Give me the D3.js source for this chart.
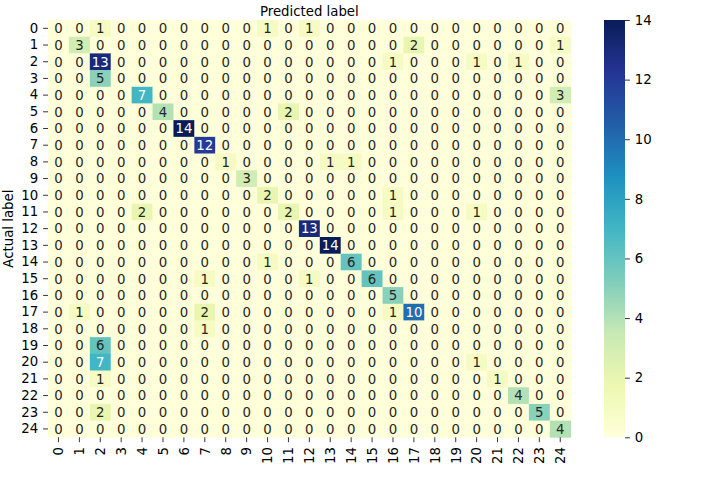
<!DOCTYPE html>
<html>
<head>
<meta charset="utf-8">
<script src="https://cdn.jsdelivr.net/npm/d3@7"></script>
<style>
  body { margin: 0; background: #fff; }
  svg { display: block; font-family: "DejaVu Sans", sans-serif; }
</style>
</head>
<body>
<svg id="chart" width="719" height="480"></svg>
<script>
// ---- data ----
const labels = d3.range(25).map(String);
const matrix = [
  [0,0,1,0,0,0,0,0,0,0,1,0,1,0,0,0,0,0,0,0,0,0,0,0,0],
  [0,3,0,0,0,0,0,0,0,0,0,0,0,0,0,0,0,2,0,0,0,0,0,0,1],
  [0,0,13,0,0,0,0,0,0,0,0,0,0,0,0,0,1,0,0,0,1,0,1,0,0],
  [0,0,5,0,0,0,0,0,0,0,0,0,0,0,0,0,0,0,0,0,0,0,0,0,0],
  [0,0,0,0,7,0,0,0,0,0,0,0,0,0,0,0,0,0,0,0,0,0,0,0,3],
  [0,0,0,0,0,4,0,0,0,0,0,2,0,0,0,0,0,0,0,0,0,0,0,0,0],
  [0,0,0,0,0,0,14,0,0,0,0,0,0,0,0,0,0,0,0,0,0,0,0,0,0],
  [0,0,0,0,0,0,0,12,0,0,0,0,0,0,0,0,0,0,0,0,0,0,0,0,0],
  [0,0,0,0,0,0,0,0,1,0,0,0,0,1,1,0,0,0,0,0,0,0,0,0,0],
  [0,0,0,0,0,0,0,0,0,3,0,0,0,0,0,0,0,0,0,0,0,0,0,0,0],
  [0,0,0,0,0,0,0,0,0,0,2,0,0,0,0,0,1,0,0,0,0,0,0,0,0],
  [0,0,0,0,2,0,0,0,0,0,0,2,0,0,0,0,1,0,0,0,1,0,0,0,0],
  [0,0,0,0,0,0,0,0,0,0,0,0,13,0,0,0,0,0,0,0,0,0,0,0,0],
  [0,0,0,0,0,0,0,0,0,0,0,0,0,14,0,0,0,0,0,0,0,0,0,0,0],
  [0,0,0,0,0,0,0,0,0,0,1,0,0,0,6,0,0,0,0,0,0,0,0,0,0],
  [0,0,0,0,0,0,0,1,0,0,0,0,1,0,0,6,0,0,0,0,0,0,0,0,0],
  [0,0,0,0,0,0,0,0,0,0,0,0,0,0,0,0,5,0,0,0,0,0,0,0,0],
  [0,1,0,0,0,0,0,2,0,0,0,0,0,0,0,0,1,10,0,0,0,0,0,0,0],
  [0,0,0,0,0,0,0,1,0,0,0,0,0,0,0,0,0,0,0,0,0,0,0,0,0],
  [0,0,6,0,0,0,0,0,0,0,0,0,0,0,0,0,0,0,0,0,0,0,0,0,0],
  [0,0,7,0,0,0,0,0,0,0,0,0,0,0,0,0,0,0,0,0,1,0,0,0,0],
  [0,0,1,0,0,0,0,0,0,0,0,0,0,0,0,0,0,0,0,0,0,1,0,0,0],
  [0,0,0,0,0,0,0,0,0,0,0,0,0,0,0,0,0,0,0,0,0,0,4,0,0],
  [0,0,2,0,0,0,0,0,0,0,0,0,0,0,0,0,0,0,0,0,0,0,0,5,0],
  [0,0,0,0,0,0,0,0,0,0,0,0,0,0,0,0,0,0,0,0,0,0,0,0,4]
];
const colorbarTicks = [0,2,4,6,8,10,12,14];
const ylgnbu = ["#ffffd9","#edf8b1","#c7e9b4","#7fcdbb","#41b6c4","#1d91c0","#225ea8","#253494","#081d58"];

// ---- layout ----
const svg = d3.select("#chart");
const L = 48, R = 570.7, T = 20, B = 437.3;
const fs = 13.3;
const tickLen = 4.9, tickPad = 4.9;

const x = d3.scaleBand().domain(labels).range([L, R]);
const y = d3.scaleBand().domain(labels).range([T, B]);
const interp = d3.piecewise(d3.interpolateRgb, ylgnbu);
const color = d3.scaleSequential(interp).domain([0, 14]);

function lum(c) {
  const rgb = d3.rgb(c);
  const f = v => { v /= 255; return v <= 0.03928 ? v / 12.92 : Math.pow((v + 0.055) / 1.055, 2.4); };
  return 0.2126 * f(rgb.r) + 0.7152 * f(rgb.g) + 0.0722 * f(rgb.b);
}

const cells = [];
matrix.forEach((row, i) => row.forEach((v, j) => cells.push({r: labels[i], c: labels[j], v})));

const g = svg.append("g");
g.selectAll("rect").data(cells).join("rect")
  .attr("x", d => x(d.c))
  .attr("y", d => y(d.r))
  .attr("width", x.bandwidth() + 0.4)
  .attr("height", y.bandwidth() + 0.4)
  .attr("fill", d => color(d.v));

g.selectAll("text").data(cells).join("text")
  .attr("x", d => x(d.c) + x.bandwidth() / 2)
  .attr("y", d => y(d.r) + y.bandwidth() / 2)
  .attr("dy", "0.36em")
  .attr("text-anchor", "middle")
  .attr("font-size", fs)
  .attr("fill", d => lum(color(d.v)) < 0.408 ? "#ffffff" : "#262626")
  .text(d => d.v);

// axes
const xAxis = svg.append("g")
  .attr("transform", `translate(0,${B})`)
  .call(d3.axisBottom(x).tickSize(tickLen).tickPadding(tickPad));
xAxis.select(".domain").remove();
xAxis.selectAll("line").attr("stroke", "#000").attr("stroke-width", 0.8);
xAxis.selectAll("text")
  .attr("font-size", fs).attr("font-family", "DejaVu Sans").attr("fill", "#000")
  .attr("transform", "rotate(-90)")
  .attr("x", -(tickLen + tickPad)).attr("y", 0).attr("dy", "0.36em")
  .style("text-anchor", "end");

const yAxis = svg.append("g")
  .attr("transform", `translate(${L},0)`)
  .call(d3.axisLeft(y).tickSize(tickLen).tickPadding(tickPad));
yAxis.select(".domain").remove();
yAxis.selectAll("line").attr("stroke", "#000").attr("stroke-width", 0.8);
yAxis.selectAll("text")
  .attr("font-size", fs).attr("font-family", "DejaVu Sans").attr("fill", "#000");

// titles
svg.append("text")
  .attr("x", (L + R) / 2).attr("y", 15.5)
  .attr("text-anchor", "middle").attr("font-size", fs).attr("fill", "#000")
  .text("Predicted label");
svg.append("text")
  .attr("transform", `translate(13,${(T + B) / 2}) rotate(-90)`)
  .attr("text-anchor", "middle").attr("font-size", fs).attr("fill", "#000")
  .text("Actual label");

// colorbar
const cbL = 604, cbR = 625;
const defs = svg.append("defs");
const grad = defs.append("linearGradient").attr("id", "cbgrad")
  .attr("x1", 0).attr("y1", 1).attr("x2", 0).attr("y2", 0);
ylgnbu.forEach((c, i) => grad.append("stop")
  .attr("offset", i / (ylgnbu.length - 1)).attr("stop-color", c));
svg.append("rect")
  .attr("x", cbL).attr("y", T).attr("width", cbR - cbL).attr("height", B - T)
  .attr("fill", "url(#cbgrad)");
const cy = d3.scaleLinear().domain([0, 14]).range([B, T]);
const cAxis = svg.append("g")
  .attr("transform", `translate(${cbR},0)`)
  .call(d3.axisRight(cy).tickValues(colorbarTicks).tickSize(tickLen).tickPadding(tickPad));
cAxis.select(".domain").remove();
cAxis.selectAll("line").attr("stroke", "#000").attr("stroke-width", 0.8);
cAxis.selectAll("text")
  .attr("font-size", fs).attr("font-family", "DejaVu Sans").attr("fill", "#000");
</script>
</body>
</html>
